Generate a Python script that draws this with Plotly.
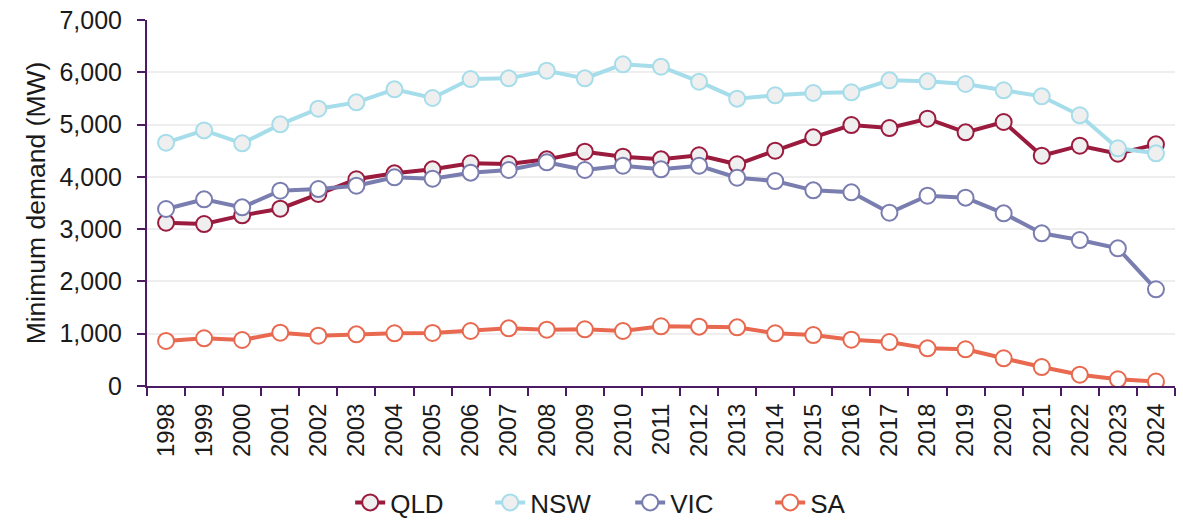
import plotly.graph_objects as go

years = [str(y) for y in range(1998, 2025)]
qld = [3123, 3098, 3264, 3391, 3672, 3953, 4067, 4144, 4259, 4246, 4335, 4481, 4386, 4335,
       4412, 4240, 4500, 4756, 4991, 4934, 5112, 4851, 5049, 4405, 4596, 4443, 4622]
nsw = [4653, 4889, 4641, 5004, 5303, 5425, 5674, 5508, 5871, 5884, 6030, 5884, 6152, 6107,
       5820, 5496, 5560, 5604, 5617, 5846, 5827, 5776, 5655, 5540, 5177, 4546, 4450]
vic = [3385, 3570, 3417, 3735, 3767, 3831, 3991, 3965, 4080, 4131, 4278, 4131, 4213, 4144,
       4213, 3984, 3920, 3742, 3704, 3314, 3640, 3602, 3302, 2920, 2792, 2633, 1849]
sa = [861, 912, 880, 1019, 962, 988, 1008, 1014, 1052, 1103, 1077, 1084, 1052, 1142,
      1135, 1122, 1008, 975, 885, 841, 720, 702, 530, 363, 216, 128, 85]

series = [
    ("QLD", qld, "#9B1B3F", "#EFEFEF"),
    ("NSW", nsw, "#A6DDEA", "#EFEFEF"),
    ("VIC", vic, "#7A7DAF", "#FFFFFF"),
    ("SA", sa, "#E8694F", "#FFFFFF"),
]

fig = go.Figure()
for name, vals, col, fill in series:
    fig.add_trace(go.Scatter(
        x=years, y=vals, name=name, mode="lines+markers",
        line=dict(color=col, width=4),
        marker=dict(size=16, color=fill, line=dict(color=col, width=2)),
    ))

axis_col = "#4B1B63"
font = "Liberation Sans, Arial, sans-serif"
fig.update_layout(
    width=1183, height=526,
    margin=dict(l=147, r=8, t=20, b=140),
    plot_bgcolor="white", paper_bgcolor="white",
    font=dict(family=font, size=24, color="#1a1a1a"),
    showlegend=True,
    legend=dict(orientation="h", xref="container", yref="container",
                x=0.296, xanchor="left", y=0.0, yanchor="bottom",
                font=dict(size=26), entrywidth=95, entrywidthmode="pixels",
                traceorder="normal"),
    xaxis=dict(type="category", range=[-0.5, 26.5], tickson="boundaries",
               ticks="outside", ticklen=8, tickcolor=axis_col, tickwidth=2,
               showline=True, linecolor=axis_col, linewidth=2, automargin=False,
               showgrid=False, tickangle=-90, tickfont=dict(size=24),
               ticklabelstandoff=6, ticklabeloverflow="allow"),
    yaxis=dict(range=[0, 7000], dtick=1000, tickformat=",d",
               ticks="outside", ticklen=8, tickcolor=axis_col, tickwidth=2,
               showline=True, linecolor=axis_col, linewidth=2, automargin=False,
               gridcolor="#EEEEEE", gridwidth=1.5, zeroline=False,
               ticklabelstandoff=10, ticklabeloverflow="allow",
               title=dict(text="Minimum demand (MW)", font=dict(size=26.5), standoff=6),
               tickfont=dict(size=25)),
)

fig.write_html("out.html", config={"displayModeBar": False},
               post_script="document.body.style.margin='0';document.body.style.overflow='hidden';")
